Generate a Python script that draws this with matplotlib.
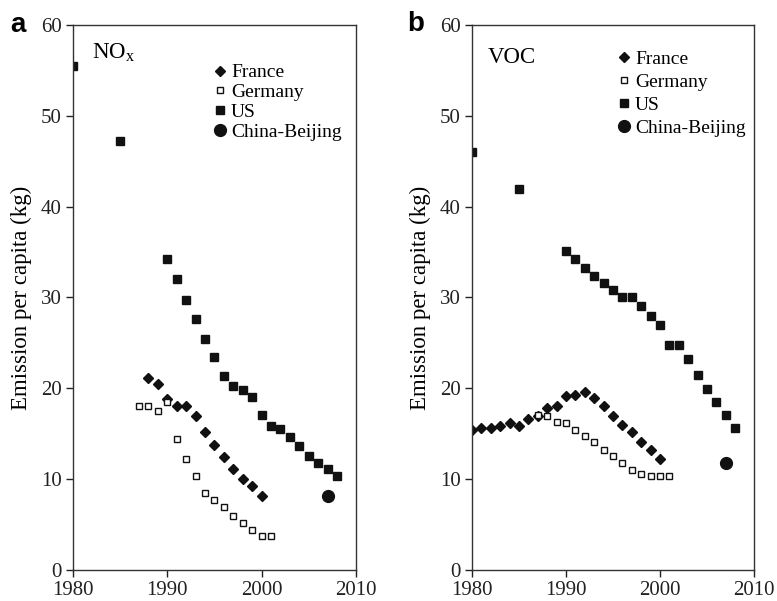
import matplotlib.pyplot as plt

plt.rcParams["font.family"] = "Liberation Serif"
plt.rcParams["mathtext.fontset"] = "custom"
plt.rcParams["mathtext.rm"] = "Liberation Serif"

# NOx (panel a)
nox_fr_years = list(range(1988, 2001))
nox_fr = [21.1, 20.5, 18.8, 18.0, 18.0, 16.9, 15.2, 13.8, 12.4, 11.1, 10.0, 9.2, 8.1]
nox_de_years = list(range(1987, 2002))
nox_de = [18.0, 18.1, 17.5, 18.5, 14.4, 12.2, 10.3, 8.5, 7.7, 6.9, 5.9, 5.2, 4.4, 3.7, 3.7]
nox_us_years = [1980, 1985] + list(range(1990, 2009))
nox_us = [55.5, 47.2, 34.2, 32.0, 29.7, 27.6, 25.4, 23.4, 21.4, 20.3, 19.8, 19.0,
          17.1, 15.8, 15.5, 14.6, 13.6, 12.6, 11.8, 11.1, 10.3]
nox_cn_years = [2007]
nox_cn = [8.1]

# VOC (panel b)
voc_fr_years = list(range(1980, 2001))
voc_fr = [15.4, 15.6, 15.6, 15.9, 16.2, 15.9, 16.6, 16.9, 17.8, 18.1, 19.2, 19.3,
          19.6, 18.9, 18.1, 17.0, 16.0, 15.2, 14.1, 13.2, 12.2]
voc_de_years = list(range(1987, 2002))
voc_de = [17.1, 16.9, 16.3, 16.2, 15.4, 14.7, 14.1, 13.2, 12.6, 11.8, 11.0, 10.6, 10.4, 10.3, 10.3]
voc_us_years = [1980, 1985] + list(range(1990, 2009))
voc_us = [46.0, 41.9, 35.1, 34.2, 33.2, 32.4, 31.6, 30.8, 30.1, 30.0, 29.1, 28.0,
          27.0, 24.8, 24.8, 23.2, 21.5, 19.9, 18.5, 17.1, 15.6]
voc_cn_years = [2007]
voc_cn = [11.8]

xticks = [1980, 1990, 2000, 2010]
yticks = [0, 10, 20, 30, 40, 50, 60]

fig = plt.figure(figsize=(7.77, 6.01), dpi=100)
ax_a = fig.add_axes([0.094, 0.0516, 0.364, 0.907])
ax_b = fig.add_axes([0.6075, 0.0516, 0.363, 0.907])

panels = [
    (ax_a, nox_fr_years, nox_fr, nox_de_years, nox_de, nox_us_years, nox_us,
     nox_cn_years, nox_cn, r"NO$_\mathrm{x}$", (0.067, 0.97), (0.473, 0.943), 0.12),
    (ax_b, voc_fr_years, voc_fr, voc_de_years, voc_de, voc_us_years, voc_us,
     voc_cn_years, voc_cn, "VOC", (0.057, 0.96), (0.492, 0.968), 0.28),
]

for ax, fx, fy, dx, dy, ux, uy, cx, cy, name, tpos, lpos, lspace in panels:
    ax.plot(fx, fy, linestyle="none", marker="D", markersize=5, color="#111111", label="France")
    ax.plot(dx, dy, linestyle="none", marker="s", markersize=5, markerfacecolor="white",
            markeredgecolor="#111111", markeredgewidth=1, label="Germany")
    ax.plot(ux, uy, linestyle="none", marker="s", markersize=5.5, color="#111111", label="US")
    ax.plot(cx, cy, linestyle="none", marker="o", markersize=8.5, color="#111111", label="China-Beijing")
    ax.set_xlim(1980, 2010)
    ax.set_ylim(0, 60)
    ax.set_xticks(xticks)
    ax.set_yticks(yticks)
    ax.tick_params(labelsize=15, direction="out", length=5, width=1, pad=3, colors="#222222")
    for s in ax.spines.values():
        s.set_color("#333333")
        s.set_linewidth(1)
    ax.set_ylabel("Emission per capita (kg)", fontsize=16.5)
    ax.yaxis.set_label_coords(-0.145, 0.5)
    ax.text(tpos[0], tpos[1], name, transform=ax.transAxes, fontsize=16.5, va="top", ha="left")
    ax.legend(loc="upper left", bbox_to_anchor=lpos, frameon=False, fontsize=14,
              handlelength=0.6, handletextpad=0.25, labelspacing=lspace, borderaxespad=0)

fig.text(0.013, 0.947, "a", fontsize=20, fontweight="bold", family="Liberation Sans", va="baseline")
fig.text(0.524, 0.948, "b", fontsize=20, fontweight="bold", family="Liberation Sans", va="baseline")

fig.savefig("out.png", dpi=100)
